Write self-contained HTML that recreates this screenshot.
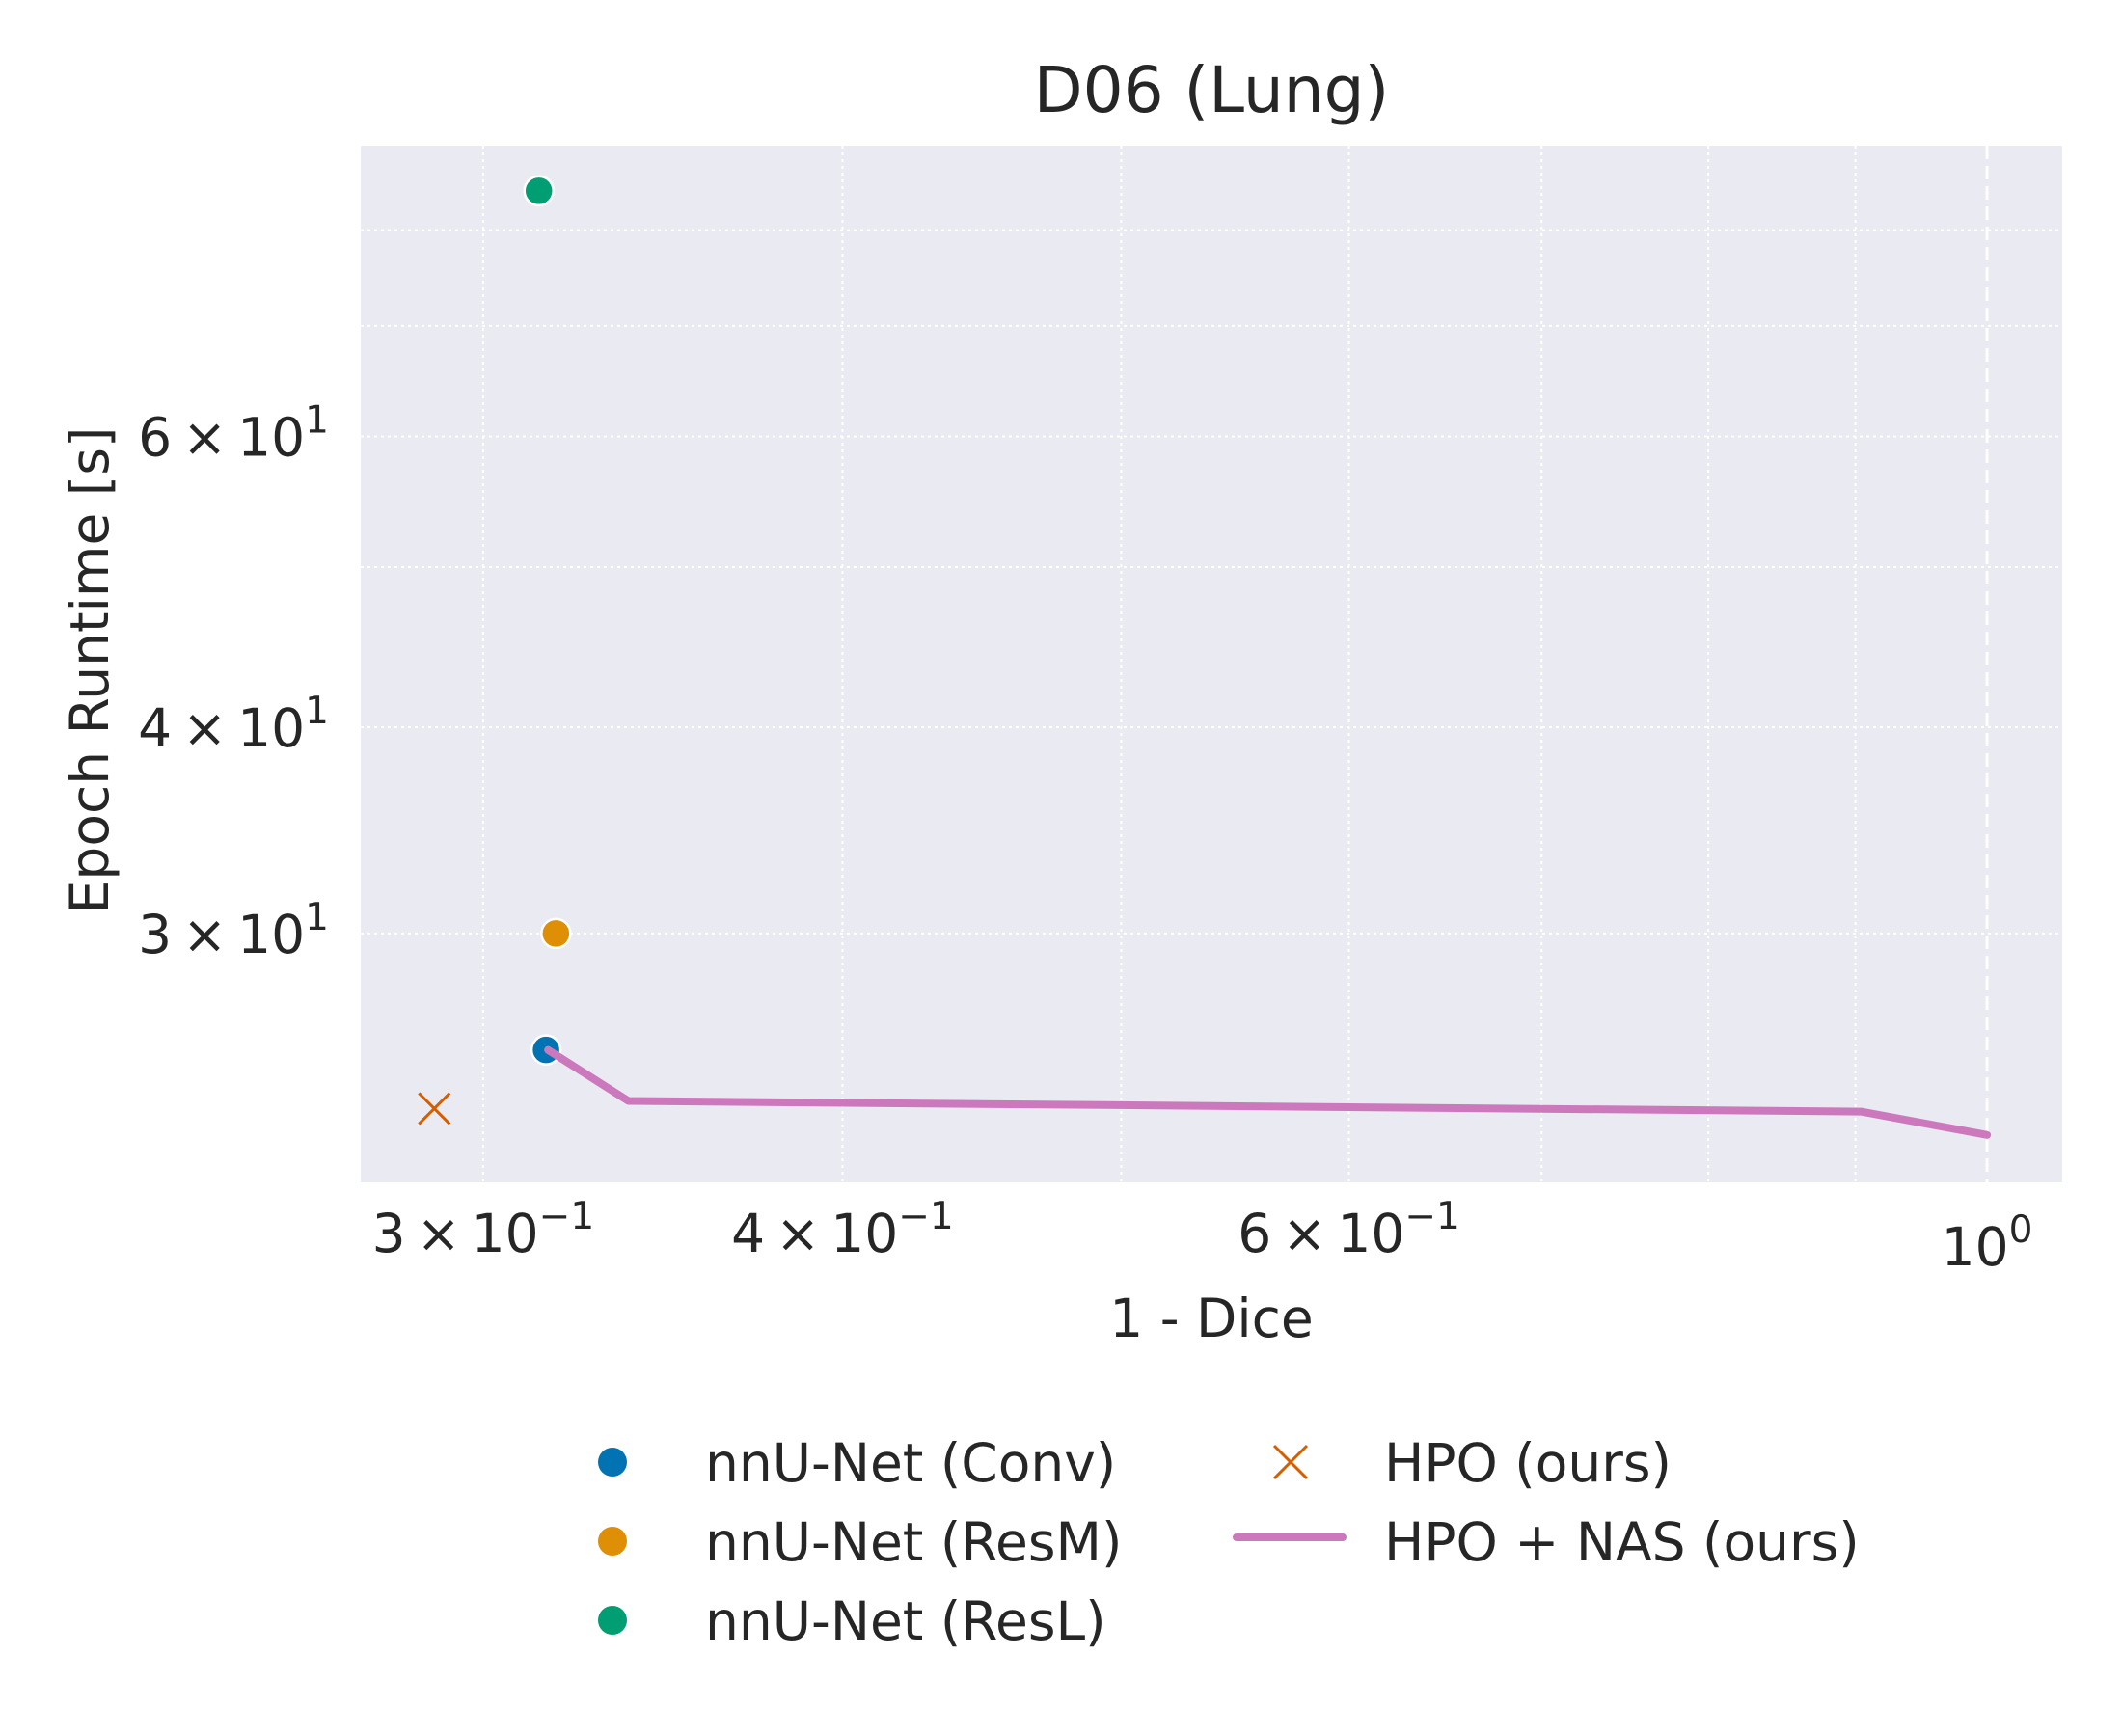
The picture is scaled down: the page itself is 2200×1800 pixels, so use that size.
<!DOCTYPE html>
<html><head><meta charset="utf-8"><style>
html,body{margin:0;padding:0;background:#fff}
svg{display:block;font-family:"DejaVu Sans","Liberation Sans",sans-serif}
</style></head><body>
<svg id="chart" width="2200" height="1800" viewBox="0 0 2200 1800" xmlns="http://www.w3.org/2000/svg">
<rect x="0" y="0" width="2200" height="1800" fill="#fff"/>
<rect x="374" y="151" width="1764" height="1075" fill="#eaeaf2"/>
<g id="grid"></g>
<g id="ticks"></g>
<g id="marks"></g>
<text x="1256" y="116" font-size="66" text-anchor="middle" fill="#262626">D06 (Lung)</text>
<text x="1256" y="1386" font-size="55" text-anchor="middle" fill="#262626">1 - Dice</text>
<text transform="translate(112,695) rotate(-90)" font-size="55" text-anchor="middle" fill="#262626">Epoch Runtime [s]</text>
<g id="legend"></g>
</svg>
<script>
const xMajorTicks=[0.3,0.4,0.6,1.0];
const xMajorLabels=[["3\u2009×\u200910","−1"],["4\u2009×\u200910","−1"],["6\u2009×\u200910","−1"],["10","0"]];
const xMinorTicks=[0.5,0.7,0.8,0.9];
const yMajorTicks=[30,40,60];
const yMajorLabels=[["3\u2009×\u200910","1"],["4\u2009×\u200910","1"],["6\u2009×\u200910","1"]];
const yMinorTicks=[50,70,80];
const baselineNames=["nnU-Net (Conv)","nnU-Net (ResM)","nnU-Net (ResL)"];
const baselineColors=["#0173b2","#de8f05","#029e73"];
const baselineX=[0.3155,0.318,0.3137];
const baselineY=[25.5,30.0,84.5];
const hpoX=[0.2885];
const hpoY=[23.5];
const nasX=[0.316,0.337,0.904,1.0];
const nasY=[25.5,23.75,23.4,22.65];
const xDomain=[0.272,1.062], yDomain=[21.2,90.0];
const L=374,R=2138,T=151,B=1226;
const NS="http://www.w3.org/2000/svg";
function sx(v){return L+(Math.log10(v)-Math.log10(xDomain[0]))/(Math.log10(xDomain[1])-Math.log10(xDomain[0]))*(R-L);}
function sy(v){return B-(Math.log10(v)-Math.log10(yDomain[0]))/(Math.log10(yDomain[1])-Math.log10(yDomain[0]))*(B-T);}
function mk(tag,attrs,parent){const e=document.createElementNS(NS,tag);for(const k in attrs)e.setAttribute(k,attrs[k]);parent.appendChild(e);return e;}
const grid=document.getElementById('grid'),ticks=document.getElementById('ticks'),marks=document.getElementById('marks'),legend=document.getElementById('legend');
xMajorTicks.concat(xMinorTicks).forEach((v,i)=>{
  const x=sx(v);
  const isOne=v===1.0;
  const g=mk('line',{x1:x,x2:x,y1:T,y2:B,stroke:'#fff','stroke-width':isOne?3:2,'stroke-dasharray':isOne?'14,7':'3,4'},grid);
  
  
});
yMajorTicks.concat(yMinorTicks).forEach(v=>{
  const y=sy(v);
  const g=mk('line',{x1:L,x2:R,y1:y,y2:y,stroke:'#fff','stroke-width':2,'stroke-dasharray':'3,4'},grid);
  
  
});
xMajorTicks.forEach((v,i)=>{
  const x=sx(v);
  const isOne=v===1.0;
  const t=mk('text',{x:x,y:isOne?1312:1298,'font-size':55,'text-anchor':'middle',fill:'#262626'},ticks);
  
  
  const a=mk('tspan',{},t);a.textContent=xMajorLabels[i][0];
  const b=mk('tspan',{'font-size':39,dy:-24},t);b.textContent=xMajorLabels[i][1];
});
yMajorTicks.forEach((v,i)=>{
  const y=sy(v);
  const t=mk('text',{x:341,y:y+20,'font-size':55,'text-anchor':'end',fill:'#262626'},ticks);
  
  
  const a=mk('tspan',{},t);a.textContent=yMajorLabels[i][0];
  const b=mk('tspan',{'font-size':39,dy:-24},t);b.textContent=yMajorLabels[i][1];
});
const pts=nasX.map((v,i)=>sx(v)+','+sy(nasY[i])).join(' ');
baselineX.forEach((v,i)=>{
  const c=mk('circle',{cx:sx(v),cy:sy(baselineY[i]),r:15,fill:baselineColors[i],stroke:'#fff','stroke-width':2.5},marks);
  
  
});
const pl=mk('polyline',{points:pts,fill:'none',stroke:'#cc78bc','stroke-width':8,'stroke-linecap':'round','stroke-linejoin':'round'},marks);


hpoX.forEach((v,i)=>{
  const x=sx(v),y=sy(hpoY[i]),s=16;
  const p=mk('path',{d:`M${x-s},${y-s}L${x+s},${y+s}M${x-s},${y+s}L${x+s},${y-s}`,stroke:'#d55e00','stroke-width':3,fill:'none'},marks);
  
  
});
const rows=[1516,1598,1680];
baselineNames.forEach((n,i)=>{
  const c=mk('circle',{cx:635,cy:rows[i],r:15,fill:baselineColors[i]},legend);
  
  
  const t=mk('text',{x:731,y:rows[i]+20,'font-size':55,fill:'#262626'},legend);
  
  
  t.textContent=n;
});
{
  const x=1338,y=rows[0],s=17;
  const p=mk('path',{d:`M${x-s},${y-s}L${x+s},${y+s}M${x-s},${y+s}L${x+s},${y-s}`,stroke:'#d55e00','stroke-width':3,fill:'none'},legend);
  
  
  const t=mk('text',{x:1435,y:rows[0]+20,'font-size':55,fill:'#262626'},legend);
  
  
  t.textContent='HPO (ours)';
  const l=mk('line',{x1:1282,x2:1392,y1:rows[1]-4,y2:rows[1]-4,stroke:'#cc78bc','stroke-width':8,'stroke-linecap':'round'},legend);
  
  
  const t2=mk('text',{x:1435,y:rows[1]+20,'font-size':55,fill:'#262626'},legend);
  
  
  t2.textContent='HPO + NAS (ours)';
}
</script>
</body></html>
